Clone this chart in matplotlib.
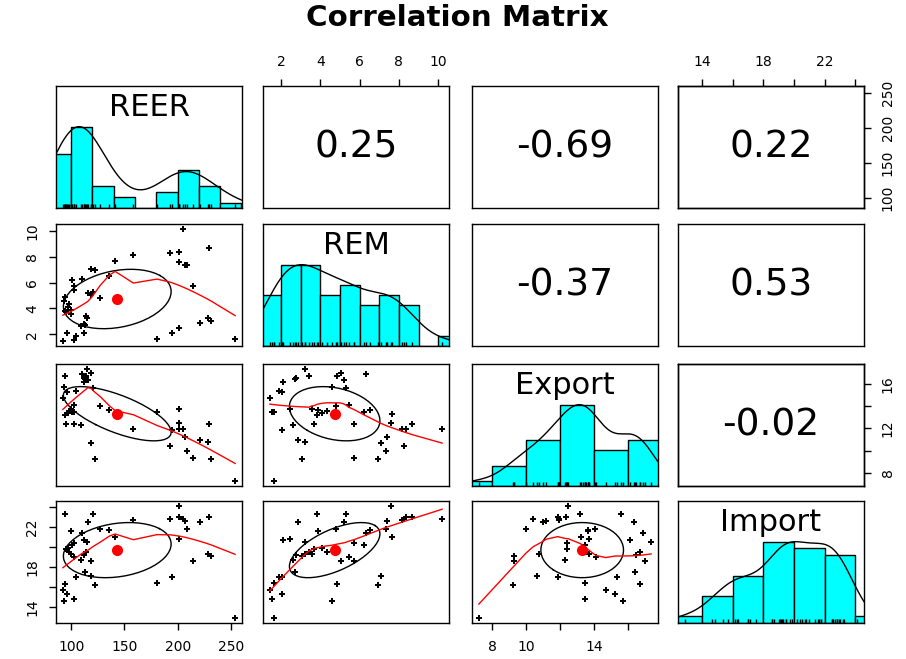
import numpy as np
import matplotlib
matplotlib.use("Agg")
import matplotlib.pyplot as plt

plt.rcParams['font.family'] = 'DejaVu Sans'

var_names = ["REER", "REM", "Export", "Import"]

reer = [92.2, 92.8, 94.4, 94.4, 95.3, 96.25, 96.9, 98.4, 99.6, 99.8,
        100.9, 102.5, 103.1, 103.1, 104.7, 109.4, 110.0, 111.9, 112.5, 113.1,
        114.0, 115.0, 115.6, 118.75, 118.75, 120.3, 121.9, 127.5, 135.9, 141.25,
        158.4, 180.6, 193.1, 194.7, 201.6, 201.6, 201.6, 204.7, 207.2, 208.75,
        214.0, 221.25, 228.1, 229.7, 231.25, 254.0]
rem = [1.43, 4.60, 3.82, 4.86, 3.70, 2.05, 4.08, 4.34, 3.55, 3.90,
       6.22, 5.44, 5.70, 1.56, 1.87, 2.60, 6.30, 2.10, 2.78, 2.70,
       3.43, 3.22, 5.18, 5.05, 7.08, 5.30, 6.95, 4.79, 6.51, 7.65,
       8.17, 1.66, 8.28, 2.05, 7.60, 8.38, 2.47, 10.20, 7.39, 7.34,
       5.72, 2.86, 3.22, 8.69, 3.04, 1.66]
export = [14.69, 15.74, 13.20, 16.70, 12.42, 15.24, 13.35, 13.55, 13.70, 13.65,
          13.50, 14.10, 12.42, 13.49, 15.34, 12.30, 16.90, 16.14, 16.50, 16.44,
          16.74, 17.37, 16.38, 17.00, 10.67, 15.60, 9.21, 14.04, 13.65, 13.25,
          11.96, 13.49, 10.43, 11.86, 12.50, 11.90, 13.70, 11.96, 11.19, 9.97,
          9.31, 10.97, 10.77, 12.36, 9.27, 7.22]
imp = [15.70, 14.66, 23.24, 16.26, 19.75, 15.36, 19.90, 19.50, 19.25, 21.57,
       20.18, 19.00, 20.40, 14.86, 17.00, 18.68, 21.40, 20.74, 19.15, 17.50,
       19.50, 20.50, 22.47, 18.58, 17.15, 23.30, 16.16, 21.80, 21.67, 21.00,
       22.70, 16.36, 22.80, 17.00, 24.13, 23.00, 20.80, 22.80, 22.57, 21.80,
       18.58, 22.47, 19.30, 22.97, 19.08, 12.87]

# correlations as printed in the upper panels
cor_text = {(0, 1): "0.25", (0, 2): "-0.69", (0, 3): "0.22",
            (1, 2): "-0.37", (1, 3): "0.53", (2, 3): "-0.02"}

# histogram breaks
breaks = [np.arange(80, 261, 20), np.arange(1, 12, 1),
          np.arange(6, 19, 2), np.arange(12, 27, 2)]

# axis ticks and the labels R kept
ticks = [[100, 150, 200, 250], [2, 4, 6, 8, 10],
         [8, 10, 12, 14, 16], [14, 16, 18, 20, 22, 24]]
bottom_labels = {0: ["100", "150", "200", "250"], 2: ["8", "10", "", "14", ""]}
top_labels = {1: ["2", "4", "6", "8", "10"], 3: ["14", "", "18", "", "22", ""]}
left_labels = {1: ["2", "4", "6", "8", "10"], 3: ["14", "", "18", "", "22", ""]}
right_labels = {0: ["100", "150", "200", "250"], 2: ["8", "", "12", "", "16"]}

data = [np.array(v, float) for v in (reer, rem, export, imp)]


def lowess(x, y, f=2/3, iters=3):
    # same scheme as R's lowess (clowess), without the delta shortcut
    o = np.argsort(x, kind="stable")
    x, y = x[o], y[o]
    n = len(x)
    ns = max(min(int(f * n + 1e-7), n), 2)
    rw = np.ones(n)
    fit = np.zeros(n)
    for it in range(iters + 1):
        for i in range(n):
            d = np.abs(x - x[i])
            h = np.sort(d)[ns - 1]
            w = np.zeros(n)
            inside = d <= 0.999 * h
            w[inside] = (1 - (d[inside] / h) ** 3) ** 3 if h > 0 else 1
            w[d <= 0.001 * h] = 1
            w *= rw
            sw = w.sum()
            if sw <= 0:
                fit[i] = y[i]
                continue
            w /= sw
            if h > 0:
                a = np.sum(w * x)
                b = x[i] - a
                c = np.sum(w * (x - a) ** 2)
                if np.sqrt(c) > 0.001 * (x[-1] - x[0]):
                    w = w * (b / c * (x - a) + 1)
            fit[i] = np.sum(w * y)
        if it == iters:
            break
        res = y - fit
        cmad = 6 * np.median(np.abs(res))
        if cmad < 1e-7 * np.mean(np.abs(y)):
            break
        u = np.abs(res) / cmad
        rw = np.where(u <= 0.001, 1.0, np.where(u > 0.999, 0.0, (1 - u ** 2) ** 2))
    return x, fit


def density(x):
    # gaussian kernel, bw.nrd0, like R density()
    q75, q25 = np.percentile(x, [75, 25])
    lo = min(np.std(x, ddof=1), (q75 - q25) / 1.34)
    bw = 0.9 * lo * len(x) ** -0.2
    grid = np.linspace(x.min() - 3 * bw, x.max() + 3 * bw, 512)
    dens = np.exp(-0.5 * ((grid[:, None] - x[None, :]) / bw) ** 2).sum(axis=1)
    return grid, dens / dens.max()


def lims(v):
    r = v.max() - v.min()
    return v.min() - 0.04 * r, v.max() + 0.04 * r


fig = plt.figure(figsize=(9.06, 6.59), dpi=100)
fig.suptitle("Correlation Matrix", fontsize=21.2, fontweight="bold", x=0.505, y=0.972, va="center")

col_left = [56, 263, 472, 678]
row_top = [86, 224, 364, 501]
pw, ph = 186, 122

for i in range(4):
    for j in range(4):
        ax = fig.add_axes([col_left[j] / 906, (659 - row_top[i] - ph) / 659, pw / 906, ph / 659])
        for s in ax.spines.values():
            s.set_linewidth(1.0)
        ax.set_xticks([])
        ax.set_yticks([])
        x = data[j]
        y = data[i]
        ax.set_xlim(*lims(x))
        if i == j:
            counts, edges = np.histogram(x, bins=breaks[i])
            hts = counts / counts.max()
            ax.bar(edges[:-1], hts, width=np.diff(edges), align="edge",
                   color="cyan", edgecolor="black", linewidth=1.0)
            gx, gy = density(x)
            ax.plot(gx, gy, color="black", lw=1.0)
            ax.vlines(x, 0, 0.045, color="black", lw=1.0)
            ax.set_ylim(0, 1.5)
            ax.text(0.5, 0.82, var_names[i], transform=ax.transAxes,
                    ha="center", va="center", fontsize=22)
        elif i < j:
            ax.set_ylim(0, 1)
            ax.text(0.5, 0.5, cor_text[(i, j)], transform=ax.transAxes,
                    ha="center", va="center", fontsize=27)
        else:
            ax.set_ylim(*lims(y))
            ax.plot(x, y, linestyle="none", marker="P", ms=4.5, color="black", mew=0)
            xm, ym = x.mean(), y.mean()
            xs, ys = x.std(ddof=1), y.std(ddof=1)
            r = np.corrcoef(x, y)[0, 1]
            ang = np.arange(52) * 2 * np.pi / 51
            circ = np.column_stack([np.cos(ang), np.sin(ang)])
            th = np.sign(r) / np.sqrt(2) if r != 0 else 1 / np.sqrt(2)
            shape = np.diag([np.sqrt(1 + r), np.sqrt(1 - r)]) @ np.array([[th, th], [-th, th]])
            ell = circ @ shape
            ax.plot(xm, ym, marker="o", ms=8, color="red", mew=0)
            ax.plot(ell[:, 0] * xs + xm, ell[:, 1] * ys + ym, color="black", lw=1.0)
            lx, ly = lowess(x, y)
            ax.plot(lx, ly, color="red", lw=1.0)

        tick_kw = dict(length=5, width=1, labelsize=10, pad=7)
        if i == 3 and j in bottom_labels:
            ax.set_xticks(ticks[j])
            ax.set_xticklabels(bottom_labels[j])
            ax.tick_params(axis="x", bottom=True, labelbottom=True, **tick_kw)
        if i == 0 and j in top_labels:
            ax.set_xticks(ticks[j])
            ax.set_xticklabels(top_labels[j])
            ax.tick_params(axis="x", top=True, labeltop=True, bottom=False, labelbottom=False, **tick_kw)
        if j == 0 and i in left_labels:
            ax.set_yticks(ticks[i])
            ax.set_yticklabels(left_labels[i], rotation=90, va="center")
            ax.tick_params(axis="y", left=True, labelleft=True, **tick_kw)
        if j == 3 and i in right_labels:
            ax2 = ax.twinx()
            ax2.set_ylim(*lims(data[i]))
            ax2.set_yticks(ticks[i])
            ax2.set_yticklabels(right_labels[i], rotation=90, va="center")
            ax2.tick_params(axis="y", right=True, labelright=True, **tick_kw)
            for s in ax2.spines.values():
                s.set_linewidth(1.0)

fig.savefig("out.png", dpi=100)
